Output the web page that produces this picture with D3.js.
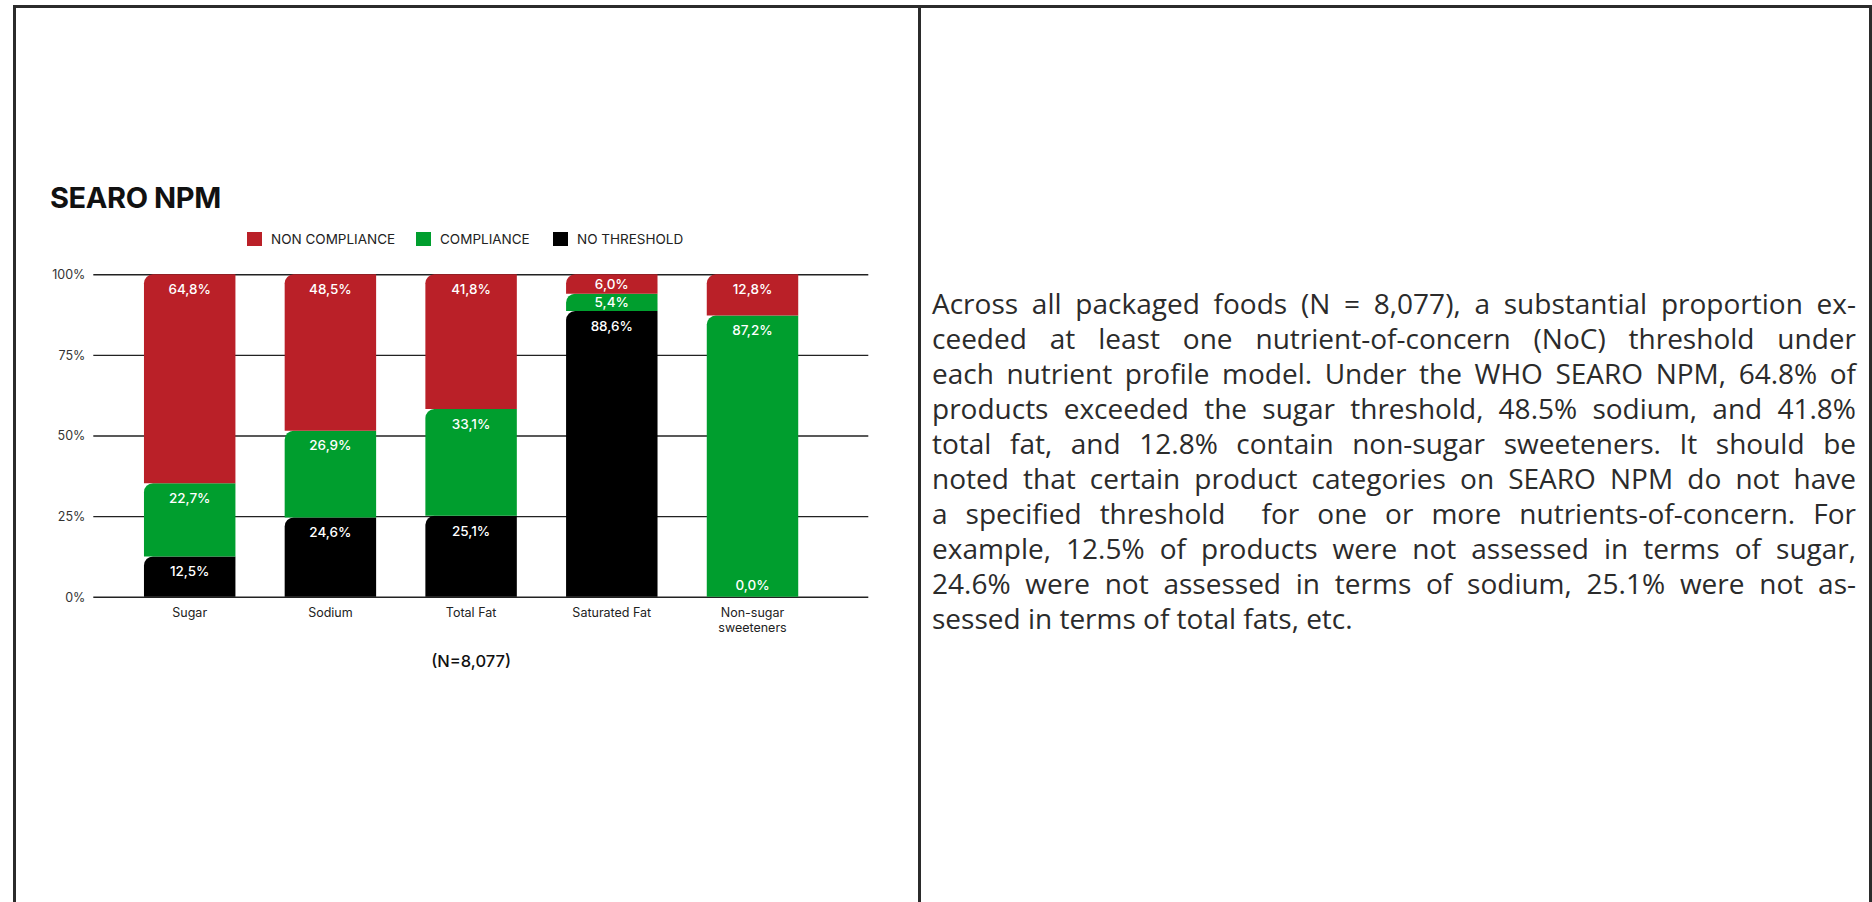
<!DOCTYPE html>
<html>
<head>
<meta charset="utf-8">
<script src="https://cdn.jsdelivr.net/npm/d3@7"></script>
<style>
  html, body { margin: 0; padding: 0; background: #fff; }
  svg { display: block; }
</style>
</head>
<body>
<svg id="chart" width="1872" height="902"></svg>
<script>
// ---------------- DATA ----------------
const categories = ["Sugar", "Sodium", "Total Fat", "Saturated Fat", "Non-sugar sweeteners"];
const categoryLines = [["Sugar"], ["Sodium"], ["Total Fat"], ["Saturated Fat"], ["Non-sugar", "sweeteners"]];
const noThreshold   = [12.5, 24.6, 25.1, 88.6, 0.0];
const compliance    = [22.7, 26.9, 33.1, 5.4, 87.2];
const nonCompliance = [64.8, 48.5, 41.8, 6.0, 12.8];
const seriesNames   = ["NON COMPLIANCE", "COMPLIANCE", "NO THRESHOLD"];
const seriesColors  = ["#BA2028", "#009E2E", "#000000"];
const yTicks        = [0, 25, 50, 75, 100];
const title         = "SEARO NPM";
const footnote      = "(N=8,077)";
const paragraphLines = [
  "Across all packaged foods (N = 8,077), a substantial proportion ex-",
  "ceeded at least one nutrient-of-concern (NoC) threshold under",
  "each nutrient profile model. Under the WHO SEARO NPM, 64.8% of",
  "products exceeded the sugar threshold, 48.5% sodium, and 41.8%",
  "total fat, and 12.8% contain non-sugar sweeteners. It should be",
  "noted that certain product categories on SEARO NPM do not have",
  "a specified threshold  for one or more nutrients-of-concern. For",
  "example, 12.5% of products were not assessed in terms of sugar,",
  "24.6% were not assessed in terms of sodium, 25.1% were not as-",
  "sessed in terms of total fats, etc."
];

// ---------------- SETUP ----------------
const FONT = "Inter, 'Noto Sans', sans-serif";
const INK = "#2b2b2b";
const svg = d3.select("#chart");

// Panel frame
const frame = svg.append("g").attr("stroke", INK).attr("stroke-width", 3).attr("fill", "none");
frame.append("line").attr("x1", 13).attr("x2", 1872).attr("y1", 6.5).attr("y2", 6.5);
frame.append("line").attr("x1", 14.5).attr("x2", 14.5).attr("y1", 5).attr("y2", 902);
frame.append("line").attr("x1", 919.5).attr("x2", 919.5).attr("y1", 5).attr("y2", 902);
frame.append("line").attr("x1", 1870.5).attr("x2", 1870.5).attr("y1", 5).attr("y2", 902);

// Title
svg.append("text").attr("x", 50).attr("y", 208)
  .attr("font-family", FONT).attr("font-weight", 700).attr("font-size", 29)
  .attr("letter-spacing", -0.4).attr("fill", "#111").text(title);

// Scales
const x = d3.scaleBand().domain(categories).range([119.35, 822.85]).paddingInner(0.35).paddingOuter(0.175);
const y = d3.scaleLinear().domain([0, 100]).range([596.7, 274.3]);
const gridLeft = 93.3, gridRight = 868.3;

// Y axis + gridlines
const yAxis = d3.axisLeft(y).tickValues(yTicks).tickFormat(d => d + "%")
  .tickSizeInner(-(gridRight - gridLeft)).tickSizeOuter(0).tickPadding(8);
const gy = svg.append("g").attr("transform", `translate(${gridLeft},0)`).call(yAxis);
gy.select(".domain").remove();
gy.selectAll(".tick line").attr("stroke", "#222").attr("stroke-width", 1.4);
gy.selectAll(".tick text").attr("font-family", FONT).attr("font-size", 12.5)
  .attr("fill", "#333").attr("dy", "0.35em");

// Stack
const rows = categories.map((c, i) => ({
  cat: c, "NO THRESHOLD": noThreshold[i], "COMPLIANCE": compliance[i], "NON COMPLIANCE": nonCompliance[i]
}));
const stackKeys = ["NO THRESHOLD", "COMPLIANCE", "NON COMPLIANCE"];
const stacked = d3.stack().keys(stackKeys)(rows);
const colorOf = d3.scaleOrdinal().domain(seriesNames).range(seriesColors);

function topLeftRounded(x0, y0, w, h, r) {
  r = Math.min(r, h, w / 2);
  const p = d3.path();
  p.moveTo(x0, y0 + h);
  p.lineTo(x0, y0 + r);
  p.arcTo(x0, y0, x0 + r, y0, r);
  p.lineTo(x0 + w, y0);
  p.lineTo(x0 + w, y0 + h);
  p.closePath();
  return p.toString();
}

const bars = svg.append("g");
stacked.forEach(layer => {
  const key = layer.key;
  layer.forEach((d, i) => {
    const cat = categories[i];
    const x0 = x(cat), w = x.bandwidth();
    const yTop = y(d[1]), yBot = y(d[0]);
    const h = yBot - yTop;
    if (h > 0) {
      bars.append("path").attr("d", topLeftRounded(x0, yTop, w, h, 9)).attr("fill", colorOf(key));
    }
  });
});

// Value labels
const labels = svg.append("g").attr("font-family", FONT).attr("font-size", 13.5)
  .attr("font-weight", 500).attr("fill", "#fff").attr("text-anchor", "middle");
const fmt = v => v.toFixed(1).replace(".", ",") + "%";
stacked.forEach(layer => {
  layer.forEach((d, i) => {
    const cat = categories[i];
    const val = d[1] - d[0];
    const yTop = y(d[1]), h = y(d[0]) - yTop;
    const cy = val === 0 ? y(0) - 11 : yTop + Math.min(15, h / 2);
    labels.append("text").attr("x", x(cat) + x.bandwidth() / 2).attr("y", cy)
      .attr("dy", "0.35em").text(fmt(val));
  });
});

// Category labels
const catG = svg.append("g").attr("font-family", FONT).attr("font-size", 12.5)
  .attr("fill", "#222").attr("text-anchor", "middle");
categories.forEach((c, i) => {
  const t = catG.append("text").attr("x", x(c) + x.bandwidth() / 2).attr("y", 616.5);
  categoryLines[i].forEach((ln, k) => {
    t.append("tspan").attr("x", x(c) + x.bandwidth() / 2).attr("dy", k === 0 ? 0 : 15).text(ln);
  });
});

// Footnote
svg.append("text").attr("x", (x.range()[0] + x.range()[1]) / 2).attr("y", 667)
  .attr("font-family", FONT).attr("font-size", 16.5).attr("font-weight", 500)
  .attr("text-anchor", "middle").attr("fill", "#111").text(footnote);

// Legend
const legend = svg.append("g").attr("font-family", FONT).attr("font-size", 13.5)
  .attr("fill", "#222");
const legendX = [247, 416, 553];
seriesNames.forEach((s, i) => {
  legend.append("rect").attr("x", legendX[i]).attr("y", 232).attr("width", 15).attr("height", 14)
    .attr("fill", seriesColors[i]);
  legend.append("text").attr("x", legendX[i] + 24).attr("y", 239).attr("dy", "0.35em").text(s);
});

// Paragraph (justified)
const pLeft = 932, pRight = 1856, pTop = 314, pLead = 35, pBase = 26;
const pWidth = pRight - pLeft;
const PFONT = "'Open Sans', 'Noto Sans', sans-serif";
const meas = svg.append("text").attr("font-family", PFONT).attr("font-size", pBase).attr("visibility", "hidden");
let maxW = 0;
paragraphLines.slice(0, -1).forEach(l => {
  meas.text(l);
  maxW = Math.max(maxW, meas.node().getComputedTextLength());
});
const pSize = Math.min(28, pBase * pWidth / maxW);
meas.attr("font-size", pSize);
const para = svg.append("g").attr("font-family", PFONT).attr("font-size", pSize).attr("fill", INK);
paragraphLines.forEach((line, li) => {
  const yy = pTop + li * pLead;
  if (li === paragraphLines.length - 1) {
    para.append("text").attr("x", pLeft).attr("y", yy).text(line);
    return;
  }
  const words = line.split(" ");
  const widths = words.map(wd => { meas.text(wd); return wd ? meas.node().getComputedTextLength() : 0; });
  const gap = (pWidth - d3.sum(widths)) / (words.length - 1);
  const t = para.append("text").attr("y", yy);
  let cx = pLeft;
  words.forEach((wd, k) => {
    if (wd) t.append("tspan").attr("x", cx).text(wd);
    cx += widths[k] + gap;
  });
});
meas.remove();
</script>
</body>
</html>
